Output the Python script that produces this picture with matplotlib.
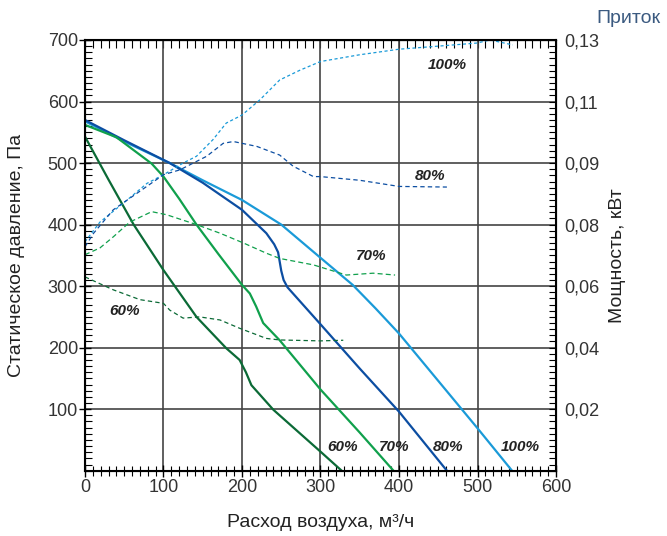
import numpy as np
import matplotlib
matplotlib.use("Agg")
import matplotlib.pyplot as plt
from matplotlib.ticker import MultipleLocator, FixedLocator, FixedFormatter, NullFormatter

plt.rcParams['font.family'] = ['Liberation Sans', 'DejaVu Sans']

# ======== DATA: static pressure (Pa) vs airflow (m3/h) ========
p100_x = [0, 50, 108, 150, 200, 250, 300, 341, 370, 400, 450, 500, 544]
p100_y = [568, 535, 500, 472, 440, 400, 346, 302, 264, 223, 146, 69, 0]

p80_x = [0, 50, 108, 150, 200, 231, 241, 246, 248, 250, 253, 258, 265, 300, 350, 400, 461]
p80_y = [570, 537, 500, 468, 424, 386, 368, 355, 340, 325, 310, 298, 288, 238, 166, 96, 0]

p70_x = [0, 40, 85, 100, 120, 142, 170, 200, 210, 218, 227, 248, 300, 350, 393]
p70_y = [562, 542, 499, 478, 442, 400, 352, 302, 288, 267, 240, 212, 132, 62, 0]

p60_x = [0, 30, 62, 100, 142, 180, 197, 205, 212, 240, 300, 327]
p60_y = [543, 473, 400, 326, 250, 199, 180, 160, 139, 99, 31, 0]

# ======== DATA: power (kW) vs airflow (m3/h) ========
w100_x = [0, 19, 49, 79, 100, 125, 142, 163, 180, 200, 223, 248, 274, 300, 350, 400, 450,
          499, 516, 545]
w100_y = [0.0744, 0.0804, 0.0835, 0.0867, 0.0881, 0.090, 0.0922, 0.0976, 0.103, 0.1056,
          0.1106, 0.117, 0.1202, 0.123, 0.1252, 0.127, 0.128, 0.129, 0.130, 0.1284]

w80_x = [0, 11, 36, 100, 121, 155, 176, 189, 219, 248, 265, 291, 300, 350, 400, 461]
w80_y = [0.0728, 0.0772, 0.0824, 0.0881, 0.0889, 0.0922, 0.0964, 0.097, 0.0954, 0.0926,
         0.0895, 0.0878, 0.0878, 0.0872, 0.0862, 0.0861]

w70_x = [0, 19, 36, 57, 85, 104, 142, 172, 202, 231, 248, 291, 333, 367, 395]
w70_y = [0.0702, 0.0724, 0.076, 0.0804, 0.0821, 0.0816, 0.080, 0.0772, 0.074, 0.0707,
         0.069, 0.0669, 0.0636, 0.0642, 0.0636]

w60_x = [0, 36, 70, 100, 108, 125, 146, 172, 197, 231, 248, 300, 329]
w60_y = [0.063, 0.0588, 0.0556, 0.0544, 0.0522, 0.0496, 0.050, 0.049, 0.0463, 0.043,
         0.0425, 0.0422, 0.0424]

# right axis labels sit on the left-axis gridlines (non-uniform in kW)
left_ticks = [100, 200, 300, 400, 500, 600, 700]
kw_ticks = [0.02, 0.04, 0.06, 0.08, 0.09, 0.11, 0.13]
kw_labels = ["0,02", "0,04", "0,06", "0,08", "0,09", "0,11", "0,13"]

c100 = "#1a9ad8"
c80 = "#0c4ea2"
c70 = "#10a04c"
c60 = "#0b6a36"

kw_pts = np.array([0.0] + kw_ticks)
pos_pts = np.array([0.0] + left_ticks)


def kw_to_pos(v):
    return np.interp(v, kw_pts, pos_pts)


def pos_to_kw(v):
    return np.interp(v, pos_pts, kw_pts)


fig = plt.figure(figsize=(6.67, 5.36), dpi=100)
ax = fig.add_axes([0.1274, 0.1218, 0.7062, 0.8036])
ax2 = ax.twinx()

# ======== AXES STYLE ========
ax.set_xlim(0, 600)
ax.set_ylim(0, 700)
ax.xaxis.set_major_locator(MultipleLocator(100))
ax.xaxis.set_minor_locator(MultipleLocator(10))
ax.yaxis.set_major_locator(FixedLocator(left_ticks))
ax.yaxis.set_minor_locator(MultipleLocator(10))
ax.grid(True, which="major", color="#444444", linewidth=1.2)
ax.set_axisbelow(True)
ax.tick_params(axis="x", which="both", direction="inout",
               labelsize=13, labelcolor="#333333", pad=2)
ax.tick_params(axis="x", which="major", length=8, width=1)
ax.tick_params(axis="x", which="minor", length=7, width=0.8)
ax.tick_params(axis="y", which="major", direction="inout", length=8, width=1,
               labelsize=13, labelcolor="#333333", pad=1)
ax.tick_params(axis="y", which="minor", direction="in", length=5, width=0.8)
for sp in ax.spines.values():
    sp.set_linewidth(1.5)

# top edge: inward ticks only
top = ax.secondary_xaxis("top")
top.xaxis.set_major_locator(MultipleLocator(10))
top.xaxis.set_major_formatter(NullFormatter())
top.tick_params(direction="in", length=6, width=0.8)

ax2.set_yscale("function", functions=(kw_to_pos, pos_to_kw))
ax2.set_ylim(0, 0.13)
ax2.yaxis.set_major_locator(FixedLocator(kw_ticks))
ax2.yaxis.set_major_formatter(FixedFormatter(kw_labels))
ax2.yaxis.set_minor_locator(FixedLocator(pos_to_kw(np.arange(0, 701, 10))))
ax2.tick_params(axis="y", which="major", direction="in", length=5, width=0.8,
                labelsize=13, labelcolor="#333333", pad=6)
ax2.tick_params(axis="y", which="minor", direction="in", length=5, width=0.8)

# ======== CURVES ========
ax.plot(p100_x, p100_y, color=c100, lw=1.6)
ax.plot(p80_x, p80_y, color=c80, lw=1.6)
ax.plot(p70_x, p70_y, color=c70, lw=1.6)
ax.plot(p60_x, p60_y, color=c60, lw=1.6)

ax2.plot(w100_x, w100_y, color=c100, lw=0.9, dashes=(2.5, 2))
ax2.plot(w80_x, w80_y, color=c80, lw=0.9, dashes=(3.5, 2.5))
ax2.plot(w70_x, w70_y, color=c70, lw=0.9, dashes=(4, 2.5))
ax2.plot(w60_x, w60_y, color=c60, lw=0.9, dashes=(3.5, 2.5))

# ======== LABELS ========
lab = dict(fontsize=11, fontweight="bold", style="italic", color="#222222",
           ha="center", va="center")
ax.text(461, 660, "100%", **lab)
ax.text(440, 479, "80%", **lab)
ax.text(364, 349, "70%", **lab)
ax.text(50, 260, "60%", **lab)
ax.text(328, 39, "60%", **lab)
ax.text(394, 39, "70%", **lab)
ax.text(462, 39, "80%", **lab)
ax.text(554, 39, "100%", **lab)

ax.set_xlabel("Расход воздуха, м³/ч", fontsize=14, color="#222222", labelpad=13)
ax.set_ylabel("Статическое давление, Па", fontsize=14, color="#222222", labelpad=16)
ax2.set_ylabel("Мощность, кВт", fontsize=14, color="#222222", labelpad=7)
fig.text(0.99, 0.966, "Приток", fontsize=14, color="#3b5a80", ha="right", va="center")

plt.savefig("out.png", dpi=100)
